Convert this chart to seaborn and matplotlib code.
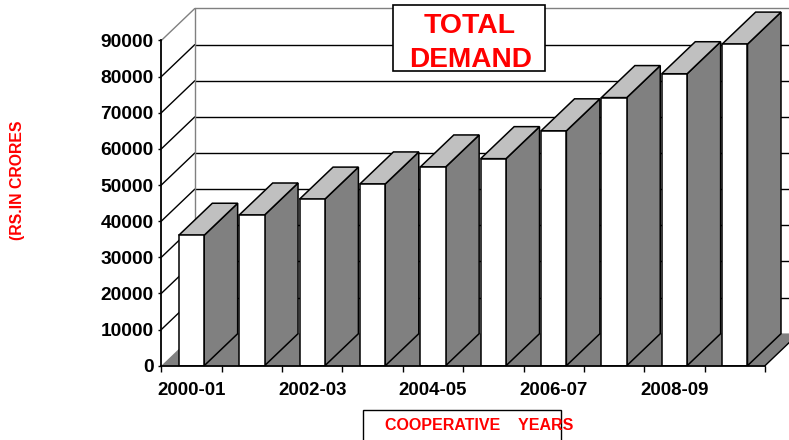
#!/usr/bin/env python3

import numpy as np
import pandas as pd
import matplotlib
matplotlib.use('Agg')
import matplotlib.pyplot as plt
import seaborn as sns

years = ['2000-01', '2001-02', '2002-03', '2003-04', '2004-05',
         '2005-06', '2006-07', '2007-08', '2008-09', '2009-10']
demand = [36100, 41700, 46100, 50300, 55000, 57300, 65000, 74200, 80800, 89000]
y_ticks = list(range(0, 100000, 10000))

sns.set_style('white')
plt.rcParams['font.family'] = ['Liberation Sans', 'DejaVu Sans']

W, H = 789, 440
f = plt.figure(figsize=(W / 100, H / 100), dpi=100)
ax = f.add_axes([161.3 / W, 1 - 365.7 / H, (765 - 161.3) / W, (365.7 - 40.5) / H])

df = pd.DataFrame({'year': years, 'demand': demand})
sns.barplot(data=df, x='year', y='demand', color='white', saturation=1, width=0.42,
            edgecolor='black', linewidth=1.1, ax=ax, zorder=2)

ax.set_xlim(-0.5, 9.5)
ax.set_ylim(0, 90000)

# depth of the fake 3d box, in data units
dx = 0.555
dy = 8860
x0, x1 = -0.5, 9.5

# back wall and side wall
ax.fill([x0 + dx, x1 + dx, x1 + dx, x0 + dx], [dy, dy, 90000 + dy, 90000 + dy],
        color='white', zorder=0.2, clip_on=False)
for v in y_ticks:
    c = '#808080' if v == 90000 else 'black'
    ax.plot([x0 + dx, x1 + dx], [v + dy, v + dy], color=c, lw=1.0, zorder=0.5, clip_on=False)
    if v > 0:
        ax.plot([x0, x0 + dx], [v, v + dy], color=c, lw=1.0, zorder=0.5, clip_on=False)
ax.plot([x0 + dx, x0 + dx], [dy, 90000 + dy], color='#808080', lw=1.0, zorder=0.6, clip_on=False)

# floor, only its right edge is outlined
ax.fill([x0, x1, x1 + dx, x0 + dx], [0, 0, dy, dy], facecolor='#808080', edgecolor='none',
        zorder=0.7, clip_on=False)
ax.plot([x1, x1 + dx], [0, dy], color='black', lw=1.0, zorder=0.8, clip_on=False)

# side and top faces of each bar
hw = 0.21
for i, v in enumerate(demand):
    ax.fill([i + hw, i + hw + dx, i + hw + dx, i + hw], [0, dy, v + dy, v],
            facecolor='#808080', edgecolor='black', lw=1.1, zorder=1.5, clip_on=False)
    ax.fill([i - hw, i + hw, i + hw + dx, i - hw + dx], [v, v, v + dy, v + dy],
            facecolor='#C0C0C0', edgecolor='black', lw=1.1, zorder=1.5, clip_on=False)

sns.despine(ax=ax)
for s in ['left', 'bottom']:
    ax.spines[s].set_color('black')
    ax.spines[s].set_linewidth(1.3)
    ax.spines[s].set_zorder(3)

ax.set_xticks(range(0, 10, 2), years[::2], fontsize=13.4, fontweight='bold', color='black')
ax.set_xticks(np.arange(-0.5, 10, 1), minor=True)
ax.set_yticks(y_ticks, [str(v) for v in y_ticks], fontsize=13.8, fontweight='bold', color='black')
ax.tick_params(axis='x', which='major', length=0, pad=11.5)
ax.tick_params(axis='x', which='minor', length=4.5, width=1, color='black', bottom=True)
ax.tick_params(axis='y', length=2.5, width=1, color='black', left=True, pad=3)
for lab in ax.get_xticklabels():
    lab.set_x(lab.get_position()[0])
ax.set_xlabel('')
ax.set_ylabel('')

# text boxes, in pixels of the figure
f.patches.append(plt.Rectangle((393 / W, 1 - 71 / H), 152 / W, 65.5 / H, transform=f.transFigure,
                               facecolor='white', edgecolor='black', lw=1.2, zorder=5))
f.text(469.5 / W, 1 - 26 / H, 'TOTAL', color='red', fontsize=20.4, fontweight='bold',
       ha='center', va='center', zorder=6)
f.text(470.5 / W, 1 - 60 / H, 'DEMAND', color='red', fontsize=20.2, fontweight='bold',
       ha='center', va='center', zorder=6)

f.patches.append(plt.Rectangle((362.5 / W, -0.02), 198.5 / W, 1 - 409.5 / H + 0.02, transform=f.transFigure,
                               facecolor='white', edgecolor='black', lw=1.0, zorder=5))
f.text(479.5 / W, 1 - 425.5 / H, 'COOPERATIVE    YEARS', color='red', fontsize=11.5, fontweight='bold',
       ha='center', va='center', zorder=6)
f.text(18 / W, 1 - 180 / H, '(RS.IN CRORES', color='red', fontsize=11.4, fontweight='bold',
       rotation=90, ha='center', va='center')

f.savefig('out.png', dpi=100)
